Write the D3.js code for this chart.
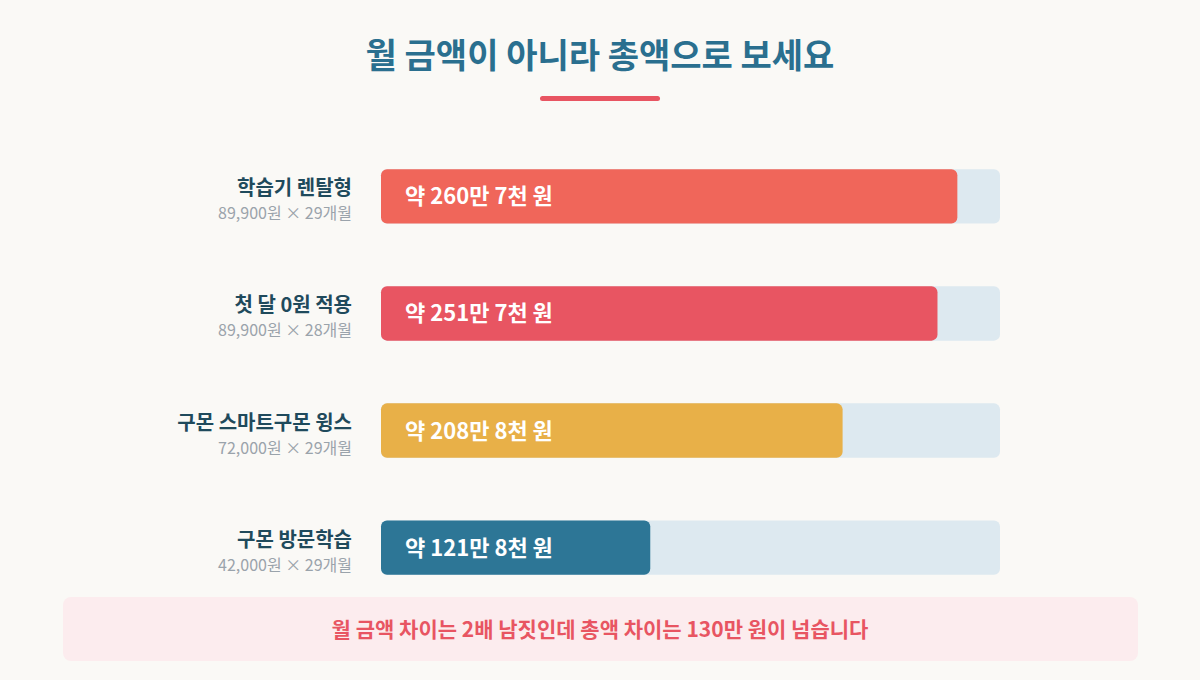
<!DOCTYPE html>
<html><head><meta charset="utf-8">
<script src="https://cdn.jsdelivr.net/npm/d3@7"></script>
<style>body{margin:0;background:#faf9f6;font-family:"Noto Sans CJK KR","Noto Sans",sans-serif;}</style>
</head><body><svg id="c" width="1200" height="680"></svg>
<script>
const names = ["학습기 렌탈형","첫 달 0원 적용","구몬 스마트구몬 윙스","구몬 방문학습"];
const subs = ["89,900원 × 29개월","89,900원 × 28개월","72,000원 × 29개월","42,000원 × 29개월"];
const totals = [2607100, 2517200, 2088000, 1218000];
const labels = ["약 260만 7천 원","약 251만 7천 원","약 208만 8천 원","약 121만 8천 원"];
const colors = ["#f0665a","#e85562","#e8b048","#2d7696"];
const maxVal = 2800000;

const svg = d3.select("#c");
svg.append("rect").attr("width",1200).attr("height",680).attr("fill","#faf9f6");
svg.append("text").attr("x",600).attr("y",68).attr("text-anchor","middle")
  .attr("font-size",34).attr("font-weight",700).attr("fill","#2a6f8f").text("월 금액이 아니라 총액으로 보세요");
svg.append("rect").attr("x",540).attr("y",96).attr("width",120).attr("height",5).attr("rx",2.5).attr("fill","#e85562");

const x = d3.scaleLinear().domain([0,maxVal]).range([381,1000]);
const y = d3.scaleBand().domain(d3.range(names.length)).range([140,604]).paddingInner(0.536).paddingOuter(0.25);
const g = svg.selectAll("g.row").data(names).join("g");
g.append("rect").attr("x",x(0)).attr("y",(d,i)=>y(i)).attr("width",x(maxVal)-x(0)).attr("height",y.bandwidth()).attr("rx",6).attr("fill","#dde9f0");
g.append("rect").attr("x",x(0)).attr("y",(d,i)=>y(i)).attr("width",(d,i)=>x(totals[i])-x(0)).attr("height",y.bandwidth()).attr("rx",6).attr("fill",(d,i)=>colors[i]);
g.append("text").attr("x",405).attr("y",(d,i)=>y(i)+y.bandwidth()/2+8).attr("font-size",22).attr("font-weight",700).attr("fill","#fff").text((d,i)=>labels[i]);
g.append("text").attr("x",352).attr("y",(d,i)=>y(i)+y.bandwidth()/2-1).attr("text-anchor","end").attr("font-size",20).attr("font-weight",700).attr("fill","#1f4a5c").text(d=>d);
g.append("text").attr("x",352).attr("y",(d,i)=>y(i)+y.bandwidth()/2+23).attr("text-anchor","end").attr("font-size",16).attr("fill","#9aa3ab").text((d,i)=>subs[i]);

svg.append("rect").attr("x",63).attr("y",597).attr("width",1075).attr("height",64).attr("rx",8).attr("fill","#fcecee");
svg.append("text").attr("x",600).attr("y",637).attr("text-anchor","middle").attr("font-size",21).attr("font-weight",700).attr("fill","#e85562").text("월 금액 차이는 2배 남짓인데 총액 차이는 130만 원이 넘습니다");
</script></body></html>
